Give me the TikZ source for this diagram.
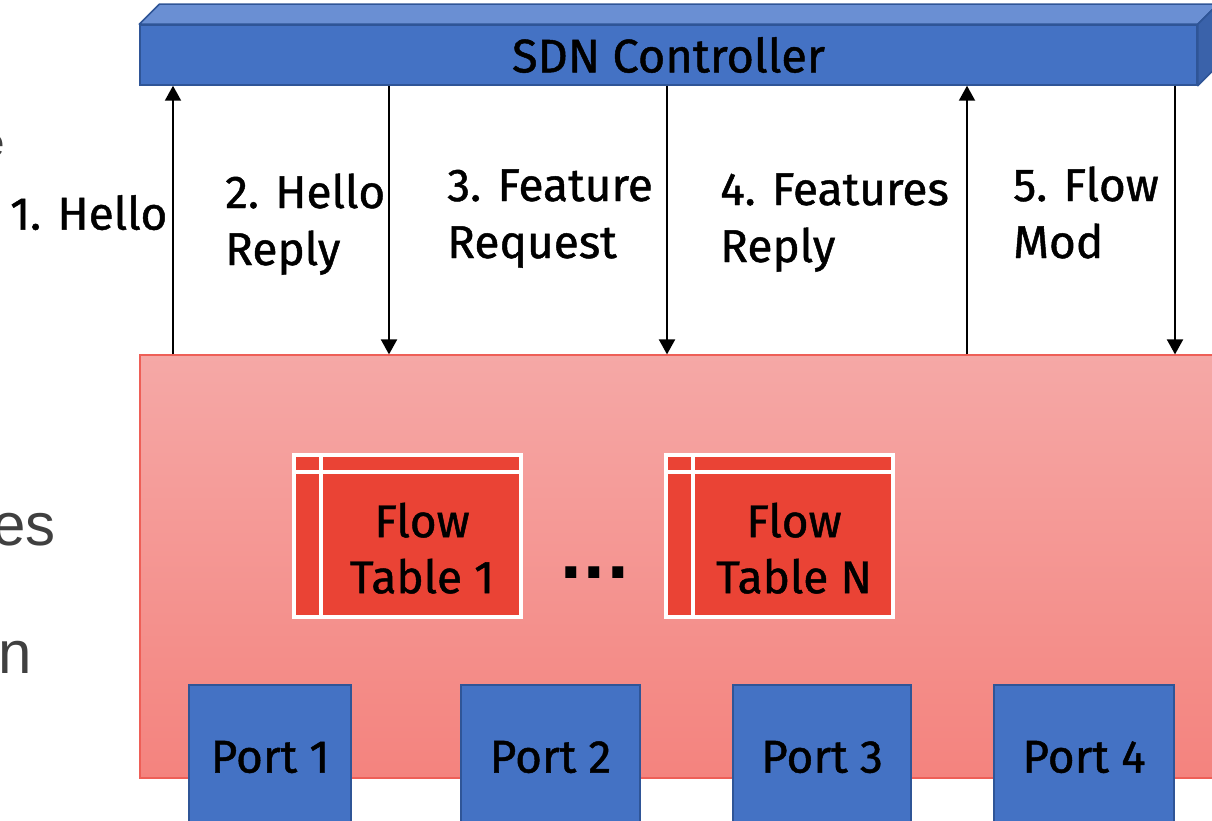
\documentclass[tikz,border=0pt]{standalone}
\usepackage{fontspec}
\setmainfont{Fira Sans}[FakeBold=1]
\newfontfamily\lblfont{Fira Sans}[FakeBold=1]
\newfontfamily\grayfont{Liberation Sans}
\newfontfamily\dotfont{DejaVu Sans}
\usetikzlibrary{arrows.meta}

\definecolor{ctrlblue}{HTML}{4472C4}
\definecolor{ctrltop}{HTML}{6A8FD3}
\definecolor{ctrlside}{HTML}{3A62AA}
\definecolor{ctrledge}{HTML}{2F5597}
\definecolor{swtop}{HTML}{F5A8A6}
\definecolor{swbot}{HTML}{F4837E}
\definecolor{swedge}{HTML}{EE5F57}
\definecolor{ftred}{HTML}{EA4335}
\definecolor{slidegray}{HTML}{404040}

\tikzset{
  ctrlfront/.style={rectangle, fill=ctrlblue, draw=ctrledge, line width=1.5pt, inner sep=0pt,
    minimum width=1057pt, minimum height=60pt, font=\lblfont\fontsize{47}{53}\selectfont},
  ctrlface/.style={draw=ctrledge, line width=1.5pt, line join=round},
  switchbox/.style={rectangle, draw=swedge, line width=1.2pt, top color=swtop, bottom color=swbot,
    minimum width=1082pt, minimum height=423pt, inner sep=0pt},
  ftable/.style={rectangle, fill=ftred, draw=white, line width=4pt, minimum width=227pt,
    minimum height=162pt, inner sep=0pt},
  ftline/.style={draw=white, line width=4pt},
  fttext/.style={align=center, inner sep=0pt, font=\lblfont\fontsize{46}{56}\selectfont},
  portbox/.style={rectangle, fill=ctrlblue, draw=ctrledge, line width=1.5pt, inner sep=0pt,
    minimum height=144pt, font=\lblfont\fontsize{46}{53}\selectfont},
  msg/.style={draw=black, line width=2pt, -{Triangle[width=16pt,length=15pt]}},
  lbl/.style={anchor=west, align=left, inner sep=0pt, font=\lblfont\fontsize{46}{57}\selectfont},
  graytxt/.style={anchor=base east, inner sep=0pt, text=slidegray},
}

\begin{document}
\begin{tikzpicture}[x=1pt,y=-1pt]
\useasboundingbox (0,0) rectangle (1212,821);

% faded slide text at the left edge
\node[graytxt, font=\grayfont\fontsize{40}{48}\selectfont] (g1) at (5,157) {e};
\node[graytxt, font=\grayfont\fontsize{60}{70}\selectfont] (g2) at (56,545) {es};
\node[graytxt, font=\grayfont\fontsize{60}{70}\selectfont] (g3) at (32,673) {on};

% switch body
\node[switchbox] (sw) at (681,566.5) {};

% SDN controller (3D bar)
\node[ctrlfront] (ctrl) at (668.5,55) {SDN Controller};
\filldraw[ctrlface, fill=ctrltop] (ctrl.north west) -- ++(20,-20) -- ([shift={(20pt,20pt)}]ctrl.north east) -- (ctrl.north east) -- cycle;
\filldraw[ctrlface, fill=ctrlside] (ctrl.north east) -- ([shift={(20pt,20pt)}]ctrl.north east) -- ([shift={(20pt,20pt)}]ctrl.south east) -- (ctrl.south east) -- cycle;

% flow tables
\node[ftable] (ft1) at (407.5,536) {};
\draw[ftline] ([yshift=-19pt]ft1.north west) -- ([yshift=-19pt]ft1.north east);
\draw[ftline] ([xshift=28.5pt]ft1.north west) -- ([xshift=28.5pt]ft1.south west);
\node[fttext] (ft1t) at (422,554) {\strut Flow\\\strut Table 1};

\node[ftable] (ftn) at (779.5,536) {};
\draw[ftline] ([yshift=-19pt]ftn.north west) -- ([yshift=-19pt]ftn.north east);
\draw[ftline] ([xshift=28.5pt]ftn.north west) -- ([xshift=28.5pt]ftn.south west);
\node[fttext] (ftnt) at (794,554) {\strut Flow\\\strut Table N};

\node[inner sep=0pt, font=\dotfont\bfseries\fontsize{62}{62}\selectfont] (dots) at (594.5,573) {...};

% ports
\node[portbox, minimum width=162pt] (p1) at (270,757) {Port 1};
\node[portbox, minimum width=179pt] (p2) at (550.5,757) {Port 2};
\node[portbox, minimum width=178pt] (p3) at (822,757) {Port 3};
\node[portbox, minimum width=180pt] (p4) at (1084,757) {Port 4};

% message arrows
\coordinate (a1) at (173,0);
\coordinate (a2) at (389,0);
\coordinate (a3) at (667,0);
\coordinate (a4) at (967,0);
\coordinate (a5) at (1175,0);
\draw[msg] (a1 |- sw.north) -- (a1 |- ctrl.south);
\draw[msg] (a2 |- ctrl.south) -- (a2 |- sw.north);
\draw[msg] (a3 |- ctrl.south) -- (a3 |- sw.north);
\draw[msg] (a4 |- sw.north) -- (a4 |- ctrl.south);
\draw[msg] (a5 |- ctrl.south) -- (a5 |- sw.north);

% labels
\node[lbl] (l1) at (10,218.2) {\strut 1. Hello};
\node[lbl] (l2) at (225,225.1) {\strut 2. Hello\\\strut Reply};
\node[lbl] (l3) at (447,218.1) {\strut 3. Feature\\\strut Request};
\node[lbl] (l4) at (720,222.1) {\strut 4. Features\\\strut Reply};
\node[lbl] (l5) at (1013,218.1) {\strut 5. Flow\\\strut Mod};
\end{tikzpicture}
\end{document}
